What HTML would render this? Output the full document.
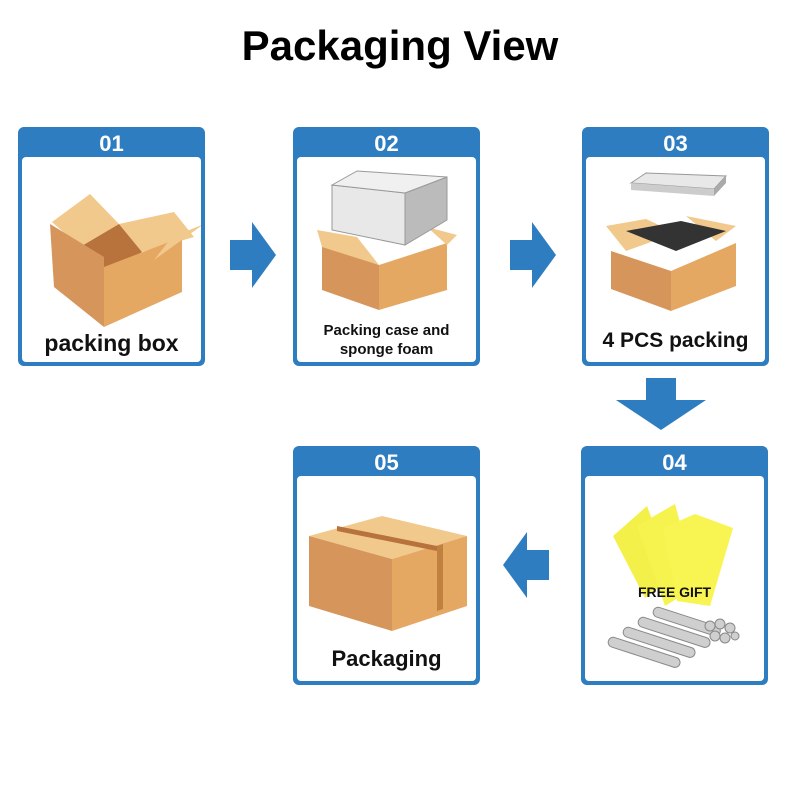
<!DOCTYPE html>
<html><head><meta charset="utf-8"><style>
body{margin:0;width:800px;height:800px;background:#fff;position:relative;overflow:hidden;font-family:"Liberation Sans",sans-serif}
.t{position:absolute;left:0;width:800px;top:22px;text-align:center;font-size:42px;font-weight:bold;color:#000}
.c{position:absolute;width:179px;height:235px;background:#2f7dc1;border:4px solid #2f7dc1;border-top:0;border-radius:6px}
.c .h{height:30px;color:#fff;font-weight:bold;font-size:22px;text-align:center;line-height:34px}
.c .b{position:absolute;left:0;top:30px;width:179px;height:205px;background:#fff;border-radius:4px}
.lbl{position:absolute;left:0;width:179px;text-align:center;font-weight:bold;color:#111}
svg{position:absolute}
</style></head><body>
<div class="t">Packaging View</div>

<div class="c" style="left:18px;top:127px"><div class="h">01</div><div class="b">
<svg width="179" height="150" viewBox="0 0 179 150" style="left:0;top:25px">
<polygon points="30,40 68,12 97,42 58,65" fill="#f2c98c"/>
<polygon points="97,42 152,30 172,55 120,70" fill="#f2c98c"/>
<polygon points="58,65 97,42 120,70 82,95" fill="#b8733d"/>
<polygon points="28,52 82,85 82,155 32,115" fill="#d6955a" transform="translate(0,-10)"/>
<polygon points="82,85 160,55 160,110 82,145" fill="#e4a862"/>
<polygon points="150,55 182,42 132,78" fill="#f2c98c"/>
</svg>
<div class="lbl" style="top:173px;font-size:23px">packing box</div></div></div>

<div class="c" style="left:293px;top:127px"><div class="h">02</div><div class="b">
<svg width="179" height="150" viewBox="0 0 179 150" style="left:0;top:8px">
<polygon points="25,80 82,100 82,145 25,125" fill="#d6955a"/>
<polygon points="82,100 150,78 150,125 82,145" fill="#e4a862"/>
<polygon points="20,65 60,72 82,100 25,82" fill="#f2c98c"/>
<polygon points="130,62 160,70 150,80" fill="#f2c98c"/>
<polygon points="35,20 108,28 108,80 35,65" fill="#e8e8e8" stroke="#999"/>
<polygon points="108,28 150,12 150,55 108,80" fill="#bbb" stroke="#999"/>
<polygon points="35,20 60,6 150,12 108,28" fill="#f0f0f0" stroke="#999"/>
</svg>
<div class="lbl" style="top:164px;font-size:15px;line-height:19px">Packing case and<br>sponge foam</div></div></div>

<div class="c" style="left:582px;top:127px"><div class="h">03</div><div class="b">
<svg width="179" height="150" viewBox="0 0 179 150" style="left:0;top:14px">
<polygon points="45,12 60,2 140,5 128,18" fill="#e8e8e8" stroke="#999"/>
<polygon points="128,18 140,5 140,12 128,25" fill="#aaa"/>
<polygon points="45,12 128,18 128,25 45,19" fill="#ccc"/>
<polygon points="20,55 60,48 90,62 40,80" fill="#f2c98c"/>
<polygon points="100,45 150,55 130,70" fill="#f2c98c"/>
<polygon points="40,60 95,50 140,60 90,80" fill="#333"/>
<polygon points="25,80 85,100 85,140 25,118" fill="#d6955a"/>
<polygon points="85,100 150,72 150,115 85,140" fill="#e4a862"/>
</svg>
<div class="lbl" style="top:172px;font-size:21px">4 PCS packing</div></div></div>

<div class="c" style="left:581px;top:446px"><div class="h">04</div><div class="b">
<svg width="179" height="198" viewBox="0 0 179 198" style="left:0;top:0">
<polygon points="28,60 62,30 88,100 60,122" fill="#f4f04a"/>
<polygon points="52,50 90,28 112,110 80,130" fill="#f6f24e"/>
<polygon points="78,52 110,38 148,52 125,130 92,125" fill="#f8f452"/>
<g fill="#cfcfcf" stroke="#888">
<rect x="25" y="160" width="75" height="10" rx="5" transform="rotate(18 25 160)"/>
<rect x="40" y="150" width="75" height="10" rx="5" transform="rotate(18 40 150)"/>
<rect x="55" y="140" width="75" height="10" rx="5" transform="rotate(18 55 140)"/>
<rect x="70" y="130" width="70" height="10" rx="5" transform="rotate(18 70 130)"/>
<circle cx="125" cy="150" r="5"/><circle cx="135" cy="148" r="5"/><circle cx="145" cy="152" r="5"/><circle cx="130" cy="160" r="5"/><circle cx="140" cy="162" r="5"/><circle cx="150" cy="160" r="4"/>
</g>
</svg>
<div class="lbl" style="top:108px;font-size:14px">FREE GIFT</div></div></div>

<div class="c" style="left:293px;top:446px"><div class="h">05</div><div class="b">
<svg width="179" height="150" viewBox="0 0 179 150" style="left:0;top:25px">
<polygon points="12,35 85,15 170,35 95,58" fill="#f2c98c"/>
<polygon points="12,35 95,58 95,130 12,105" fill="#d6955a"/>
<polygon points="95,58 170,35 170,105 95,130" fill="#e4a862"/>
<polygon points="40,25 140,45 140,50 40,30" fill="#b8733d"/>
<polygon points="140,45 140,110 146,108 146,43" fill="#c0803f"/>
</svg>
<div class="lbl" style="top:170px;font-size:22px">Packaging</div></div></div>

<svg width="800" height="800" style="left:0;top:0">
<g fill="#2f7dc1">
<polygon points="230,240 252,240 252,222 276,255 252,288 252,270 230,270"/>
<polygon points="510,240 532,240 532,222 556,255 532,288 532,270 510,270"/>
<polygon points="646,378 676,378 676,400 706,400 661,430 616,400 646,400"/>
<polygon points="549,550 527,550 527,532 503,565 527,598 527,580 549,580"/>
</g></svg>
</body></html>
